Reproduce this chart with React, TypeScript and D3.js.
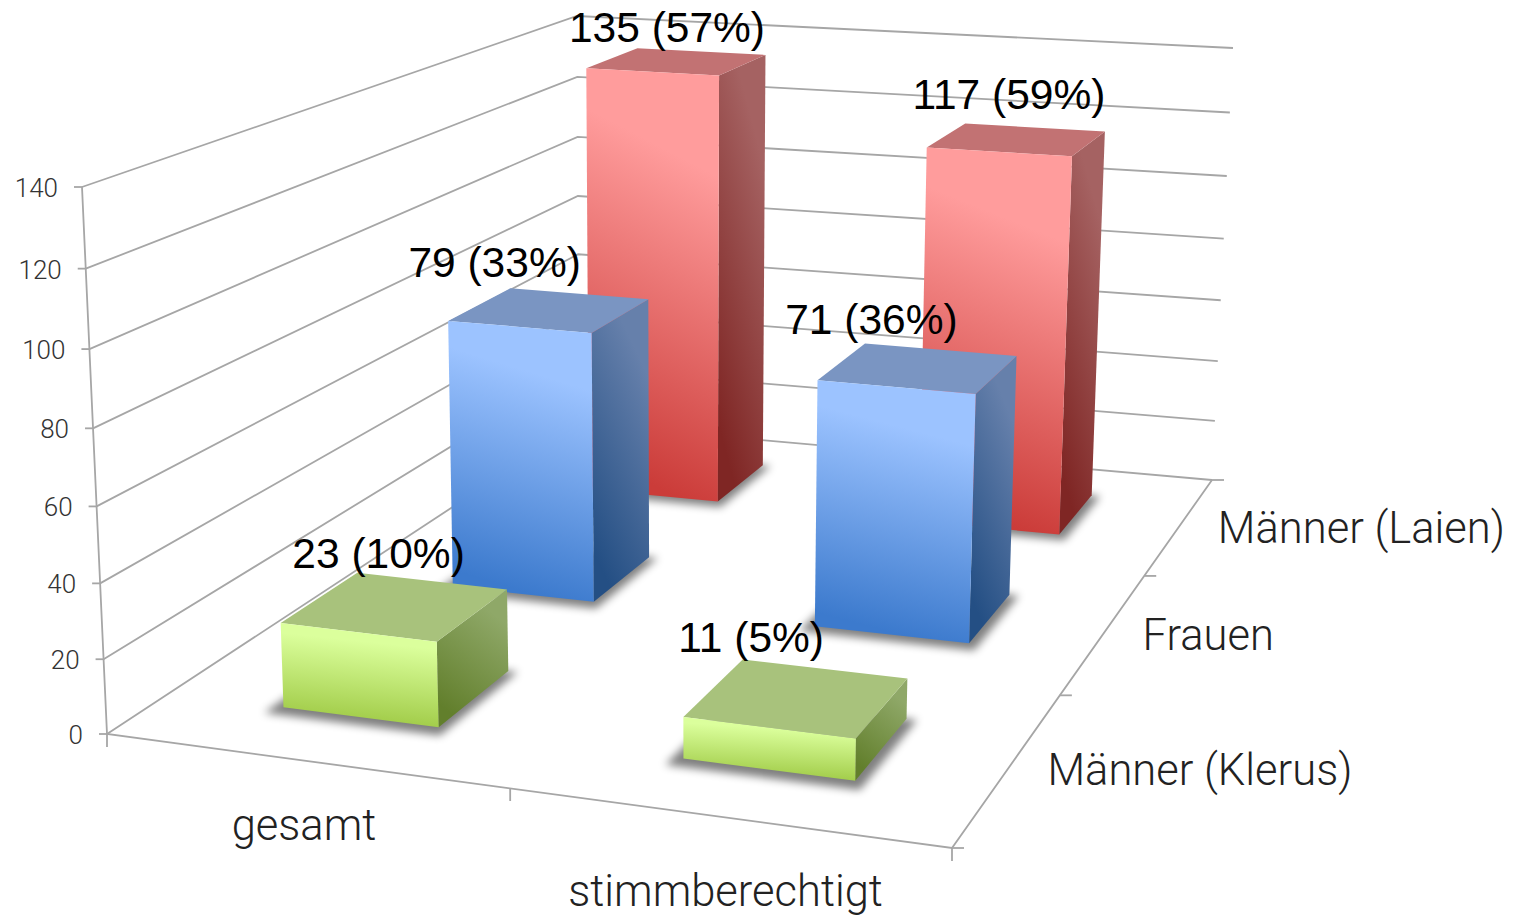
import React from "react";
import * as d3 from "d3";

// ---- data ----
const columns = ["gesamt", "stimmberechtigt"];
const rows = ["Männer (Klerus)", "Frauen", "Männer (Laien)"];
const klerus = [23, 11];
const frauen = [79, 71];
const laien = [135, 117];
const klerusPct = ["10%", "5%"];
const frauenPct = ["33%", "36%"];
const laienPct = ["57%", "59%"];
const yTicks = [0, 20, 40, 60, 80, 100, 120, 140];
const yMax = 140;

// ---- layout: page positions of the chart box corners (front-left, front-right, back-right, back-left) ----
const floorCorners: [number, number][] = [[107, 734], [952, 848], [1212, 480], [579, 424]];
const topCorners: [number, number][] = [[82, 187], [968, 257], [1233, 48], [577, 16]];
const unit: [number, number][] = [[0, 0], [2, 0], [2, 3], [0, 3]];

function solve(A: number[][], b: number[]) {
  const n = b.length;
  const M = A.map((r, i) => [...r, b[i]]);
  for (let c = 0; c < n; c++) {
    let p = c;
    for (let r = c + 1; r < n; r++) if (Math.abs(M[r][c]) > Math.abs(M[p][c])) p = r;
    [M[c], M[p]] = [M[p], M[c]];
    for (let r = 0; r < n; r++) {
      if (r === c) continue;
      const f = M[r][c] / M[c][c];
      for (let k = c; k <= n; k++) M[r][k] -= f * M[c][k];
    }
  }
  return M.map((r, i) => r[n] / r[i]);
}

function homography(dst: [number, number][]) {
  const A: number[][] = [];
  const b: number[] = [];
  unit.forEach(([x, z], i) => {
    const [u, v] = dst[i];
    A.push([x, z, 1, 0, 0, 0, -u * x, -u * z]); b.push(u);
    A.push([0, 0, 0, x, z, 1, -v * x, -v * z]); b.push(v);
  });
  const h = solve(A, b);
  return (x: number, z: number): [number, number] => {
    const w = h[6] * x + h[7] * z + 1;
    return [(h[0] * x + h[1] * z + h[2]) / w, (h[3] * x + h[4] * z + h[5]) / w];
  };
}
const floorH = homography(floorCorners);
const topH = homography(topCorners);
const foreshorten = 0.95;
const project = (x: number, y: number, z: number): [number, number] => {
  const t = (y * foreshorten) / (1 + (foreshorten - 1) * y);
  const a = floorH(x, z), b = topH(x, z);
  return [a[0] + (b[0] - a[0]) * t, a[1] + (b[1] - a[1]) * t];
};

const xBand = d3.scaleBand<string>().domain(columns).range([0, 2]).paddingInner(0.6).paddingOuter(0.3).align(0.505);
const zBand = d3.scaleBand<string>().domain(rows).range([0, 3]).paddingInner(0.58).paddingOuter(0.29).align(0.52);
const yScale = d3.scaleLinear().domain([0, yMax]).range([0, 1]);

const line = d3.line<[number, number]>();
const poly = (pts: [number, number][]) => line(pts)! + "Z";

const series = [
  { row: rows[2], values: laien, pct: laienPct, key: "red" },
  { row: rows[1], values: frauen, pct: frauenPct, key: "blue" },
  { row: rows[0], values: klerus, pct: klerusPct, key: "green" },
];
const palette: Record<string, { f: string[]; s: string[]; t: string }> = {
  red: { f: ["#ff9c9c", "#cb3c39"], s: ["#a56262", "#7f2624"], t: "#c27273" },
  blue: { f: ["#9cc3ff", "#3c7acd"], s: ["#6680ab", "#244f84"], t: "#7a95c2" },
  green: { f: ["#dbff9c", "#a0cb47"], s: ["#8fa868", "#627f2c"], t: "#a8c27c" },
};
const labelOffsets: Record<string, [number, number][]> = {
  red: [[-10, -19], [-8, -30]],
  blue: [[-55, -33], [-47, -34]],
  green: [[-17, -38], [-46, -45]],
};

const gridColor = "#a6a6a6";
const gridWidth = 1.8;
const axisFont = "Roboto, 'Liberation Sans', sans-serif";

export default function App() {
  const bars = series.flatMap((s) =>
    columns.map((c, i) => {
      const x0 = xBand(c)!, x1 = x0 + xBand.bandwidth();
      const z0 = zBand(s.row)!, z1 = z0 + zBand.bandwidth();
      const y = yScale(s.values[i]);
      return { s, i, x0, x1, z0, z1, y };
    })
  );
  return (
    <svg width={1515} height={915} style={{ position: "absolute", left: 0, top: 0, background: "#fff" }}>
      <defs>
        {Object.entries(palette).map(([k, p]) => (
          <React.Fragment key={k}>
            <linearGradient id={`f-${k}`} x1="0.58" y1="0" x2="0.42" y2="1">
              <stop offset="0.18" stopColor={p.f[0]} />
              <stop offset="0.95" stopColor={p.f[1]} />
            </linearGradient>
            <linearGradient id={`s-${k}`} x1="0.7" y1="0" x2="0.3" y2="1">
              <stop offset="0.12" stopColor={p.s[0]} />
              <stop offset="0.95" stopColor={p.s[1]} />
            </linearGradient>
          </React.Fragment>
        ))}
        <filter id="blur" x="-30%" y="-30%" width="160%" height="160%">
          <feGaussianBlur stdDeviation="4" />
        </filter>
      </defs>

      {/* walls */}
      {yTicks.map((t) => {
        const y = yScale(t);
        const a = project(0, y, 0);
        return (
          <g key={t}>
            <path d={line([a, project(0, y, 3), project(2, y, 3)])!} fill="none" stroke={gridColor} strokeWidth={gridWidth} />
            <line x1={a[0] - 8} y1={a[1]} x2={a[0]} y2={a[1]} stroke={gridColor} strokeWidth={gridWidth} />
            <text x={a[0] - 24} y={a[1] + 10} textAnchor="end" fontFamily={axisFont} fontWeight={300} fontSize={26} fill="#333">{t}</text>
          </g>
        );
      })}
      <path d={line([project(0, 1, 0), project(0, 0, 0), project(2, 0, 0), project(2, 0, 3)])!} fill="none" stroke={gridColor} strokeWidth={gridWidth} />
      {d3.range(0, 3).map((i) => {
        const p = project(i, 0, 0);
        return <line key={i} x1={p[0] + (i === 1 ? 3 : 0)} y1={p[1]} x2={p[0] + (i === 1 ? 3 : 0)} y2={p[1] + 13} stroke={gridColor} strokeWidth={gridWidth} />;
      })}
      {d3.range(0, 4).map((i) => {
        const p = project(2, 0, i);
        return <line key={i} x1={p[0]} y1={p[1]} x2={p[0] + 12} y2={p[1]} stroke={gridColor} strokeWidth={gridWidth} />;
      })}

      {/* bars */}
      {bars.map(({ s, i, x0, x1, z0, z1, y }) => {
        const p = palette[s.key];
        const id = `${s.key}-${i}`;
        const dx = 0.025, dz = 0.05;
        return (
          <g key={id}>
            <path d={poly([project(x0 - dx, 0, z0 - dz), project(x1 + dx, 0, z0 - dz), project(x1 + dx, 0, z1), project(x0 - dx, 0, z1)])} fill="#000" opacity={0.5} filter="url(#blur)" />
            <path d={poly([project(x1, 0, z0), project(x1, 0, z1), project(x1, y, z1), project(x1, y, z0)])} fill={`url(#s-${s.key})`} />
            <path d={poly([project(x0, y, z0), project(x1, y, z0), project(x1, y, z1), project(x0, y, z1)])} fill={p.t} />
            <path d={poly([project(x0, 0, z0), project(x1, 0, z0), project(x1, y, z0), project(x0, y, z0)])} fill={`url(#f-${s.key})`} />
          </g>
        );
      })}

      {/* data labels */}
      {bars.map(({ s, i, x0, x1, z0, z1, y }) => {
        const c = project((x0 + x1) / 2, y, (z0 + z1) / 2);
        const [ox, oy] = labelOffsets[s.key][i];
        return (
          <text key={s.key + i} x={c[0] + ox} y={c[1] + oy} textAnchor="middle" fontFamily="'Liberation Sans', Arial, sans-serif" fontSize={42.5} fill="#000">
            {`${s.values[i]} (${s.pct[i]})`}
          </text>
        );
      })}

      {/* category labels */}
      {columns.map((c, i) => {
        const a = project(i + 0.5, 0, 0);
        return (
          <text key={c} x={a[0] + 2} y={a[1] + (i === 0 ? 80 : 89)} textAnchor="middle" fontFamily={axisFont} fontWeight={300} fontSize={43.5} fill="#222">{c}</text>
        );
      })}
      {rows.map((r, i) => {
        const a = project(2, 0, i + 0.5);
        return (
          <text key={r} x={a[0] + 38} y={a[1] + 18} fontFamily={axisFont} fontWeight={300} fontSize={43.5} fill="#222">{r}</text>
        );
      })}
    </svg>
  );
}
